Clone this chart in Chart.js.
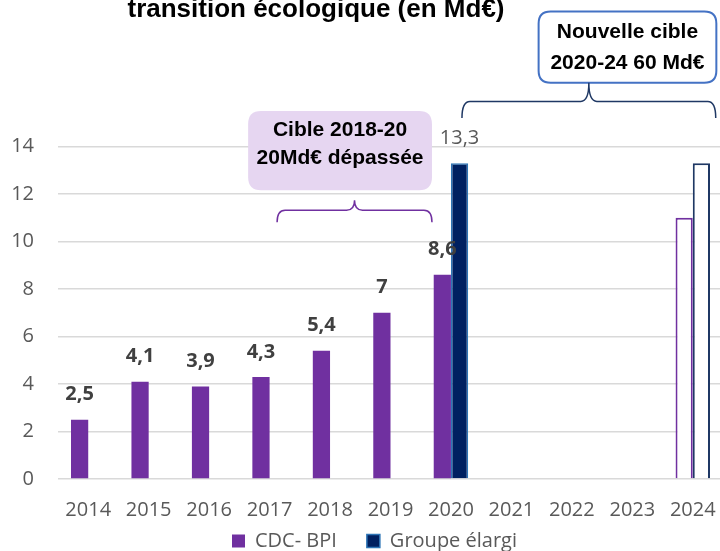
<!DOCTYPE html>
<html><head><meta charset="utf-8">
<script src="https://cdn.jsdelivr.net/npm/chart.js@4.4.1/dist/chart.umd.min.js"></script>
<style>
html,body{margin:0;padding:0;background:#fff;overflow:hidden;width:720px;height:551px}
#wrap{width:724px;height:551px}
</style></head>
<body><div id="wrap"><canvas id="c" width="724" height="551"></canvas></div>
<script>
const years = ['2014','2015','2016','2017','2018','2019','2020','2021','2022','2023','2024'];
const cdcBpi = [2.5, 4.1, 3.9, 4.3, 5.4, 7, 8.6, null, null, null, 11.0];
const groupeElargi = [null, null, null, null, null, null, 13.3, null, null, null, 13.3];
const projected = [false, false, false, false, false, false, false, false, false, false, true];
const seriesNames = ['CDC- BPI', 'Groupe élargi'];
const titleText = 'transition écologique (en Md€)';
const noteCible = ['Cible 2018-20', '20Md€ dépassée'];
const noteNouvelle = ['Nouvelle cible', '2020-24 60 Md€'];

const PURPLE = '#7030A0', NAVY = '#002060', NAVY_EDGE = '#2E75B6', NAVY_OUT = '#1F3864';

function fmt(v){ return String(v).replace('.', ','); }

const labelPlugin = {
  id: 'valueLabels',
  afterDatasetsDraw(chart){
    const ctx = chart.ctx;
    ctx.save();
    ctx.textAlign = 'center';
    ctx.textBaseline = 'middle';
    chart.data.datasets.forEach((ds, di) => {
      const meta = chart.getDatasetMeta(di);
      meta.data.forEach((el, i) => {
        const v = ds.data[i];
        if (v == null || projected[i]) return;
        if (di === 0) { ctx.font = "bold 20px 'Open Sans'"; ctx.fillStyle = '#404040'; }
        else { ctx.font = "20px 'Open Sans'"; ctx.fillStyle = '#595959'; }
        ctx.fillText(fmt(v), el.x, el.y - 25);
      });
    });
    ctx.restore();
  }
};

function roundRect(ctx, x, y, w, h, r){
  ctx.beginPath();
  ctx.moveTo(x + r, y);
  ctx.lineTo(x + w - r, y);
  ctx.quadraticCurveTo(x + w, y, x + w, y + r);
  ctx.lineTo(x + w, y + h - r);
  ctx.quadraticCurveTo(x + w, y + h, x + w - r, y + h);
  ctx.lineTo(x + r, y + h);
  ctx.quadraticCurveTo(x, y + h, x, y + h - r);
  ctx.lineTo(x, y + r);
  ctx.quadraticCurveTo(x, y, x + r, y);
  ctx.closePath();
}

function brace(ctx, xL, xR, yEnd, yLine, yPeak, color){
  const xM = (xL + xR) / 2, r = 8;
  ctx.save();
  ctx.strokeStyle = color; ctx.lineWidth = 1.5;
  ctx.beginPath();
  ctx.moveTo(xL, yEnd);
  ctx.quadraticCurveTo(xL, yLine, xL + r, yLine);
  ctx.lineTo(xM - r, yLine);
  ctx.quadraticCurveTo(xM, yLine, xM, yPeak);
  ctx.quadraticCurveTo(xM, yLine, xM + r, yLine);
  ctx.lineTo(xR - r, yLine);
  ctx.quadraticCurveTo(xR, yLine, xR, yEnd);
  ctx.stroke();
  ctx.restore();
}

const notePlugin = {
  id: 'notes',
  afterLayout(chart){
    chart.legend.left += 26;
    chart.scales.x.bottom = chart.height;
  },
  afterDraw(chart){
    const ctx = chart.ctx;
    const xs = chart.scales.x, ys = chart.scales.y;
    const x0 = xs.getPixelForValue(0);
    const cw = xs.getPixelForValue(1) - x0;
    const X = v => x0 + v * cw;
    const Y = v => ys.getPixelForValue(v);
    ctx.save();
    ctx.font = "bold 26px 'Liberation Sans'";
    ctx.fillStyle = '#000';
    ctx.textAlign = 'center';
    ctx.textBaseline = 'alphabetic';
    ctx.fillText(titleText, 316, 17);

    const pL = X(2.645), pR = X(5.686), pT = Y(15.5), pB = Y(12.16);
    roundRect(ctx, pL, pT, pR - pL, pB - pT, 13);
    ctx.fillStyle = '#E6D6F1';
    ctx.fill();
    ctx.fillStyle = '#000';
    ctx.font = "bold 21px 'Liberation Sans'";
    ctx.textBaseline = 'middle';
    ctx.fillText(noteCible[0], (pL + pR) / 2, Y(14.70));
    ctx.fillText(noteCible[1], (pL + pR) / 2, Y(13.51));
    brace(ctx, X(3.124), X(5.686), Y(10.81), Y(11.32), Y(11.74), PURPLE);

    const nL = X(7.45), nR = X(10.39), nT = Y(19.68), nB = Y(16.68);
    roundRect(ctx, nL, nT, nR - nL, nB - nT, 12);
    ctx.fillStyle = '#fff';
    ctx.fill();
    ctx.strokeStyle = '#4472C4'; ctx.lineWidth = 2;
    ctx.stroke();
    ctx.fillStyle = '#000';
    ctx.font = "bold 21px 'Liberation Sans'";
    ctx.fillText(noteNouvelle[0], (nL + nR) / 2, Y(18.81));
    ctx.fillText(noteNouvelle[1], (nL + nR) / 2, Y(17.50));
    brace(ctx, X(6.182), X(10.38), Y(15.2), Y(15.9), Y(16.68), NAVY_OUT);
    ctx.restore();
  }
};

Chart.defaults.font.family = "'Open Sans'";

new Chart(document.getElementById('c'), {
  type: 'bar',
  data: {
    labels: years,
    datasets: [
      {
        label: seriesNames[0],
        data: cdcBpi,
        backgroundColor: c => projected[c.dataIndex] ? '#FFFFFF' : PURPLE,
        borderColor: PURPLE,
        borderWidth: c => projected[c.dataIndex] ? 2 : 0,
        categoryPercentage: 0.57,
        barPercentage: 1.0
      },
      {
        label: seriesNames[1],
        data: groupeElargi,
        backgroundColor: c => projected[c.dataIndex] ? '#FFFFFF' : NAVY,
        borderColor: c => projected[c.dataIndex] ? NAVY_OUT : NAVY_EDGE,
        borderWidth: c => projected[c.dataIndex] ? 2 : 1.5,
        categoryPercentage: 0.57,
        barPercentage: 1.0
      }
    ]
  },
  options: {
    responsive: false,
    animation: false,
    devicePixelRatio: 1,
    layout: { padding: { top: 146.5, left: 0, right: 1, bottom: -10 } },
    scales: {
      x: {
        grid: { display: false, drawTicks: false },
        border: { display: false },
        ticks: { color: '#595959', font: { size: 20 }, padding: 19, maxRotation: 0, autoSkip: false },
        afterFit: s => { s.height = 22; s.paddingLeft = 0; s.paddingRight = 0; }
      },
      y: {
        min: 0, max: 14,
        ticks: { stepSize: 2, color: '#595959', font: { size: 20 }, padding: 24 },
        grid: { color: '#D9D9D9', lineWidth: 1.4, drawTicks: false },
        border: { display: false },
        afterFit: s => { s.width = 58; }
      }
    },
    plugins: {
      title: { display: false },
      tooltip: { enabled: false },
      legend: {
        position: 'bottom',
        labels: {
          color: '#595959',
          font: { size: 20 },
          boxWidth: 13,
          boxHeight: 13,
          padding: 30,
          generateLabels: () => [
            { text: seriesNames[0], fillStyle: PURPLE, strokeStyle: PURPLE, lineWidth: 0, datasetIndex: 0, fontColor: '#595959' },
            { text: seriesNames[1], fillStyle: NAVY, strokeStyle: NAVY_EDGE, lineWidth: 1.5, datasetIndex: 1, fontColor: '#595959' }
          ]
        }
      }
    }
  },
  plugins: [labelPlugin, notePlugin]
});
</script>
</body></html>
